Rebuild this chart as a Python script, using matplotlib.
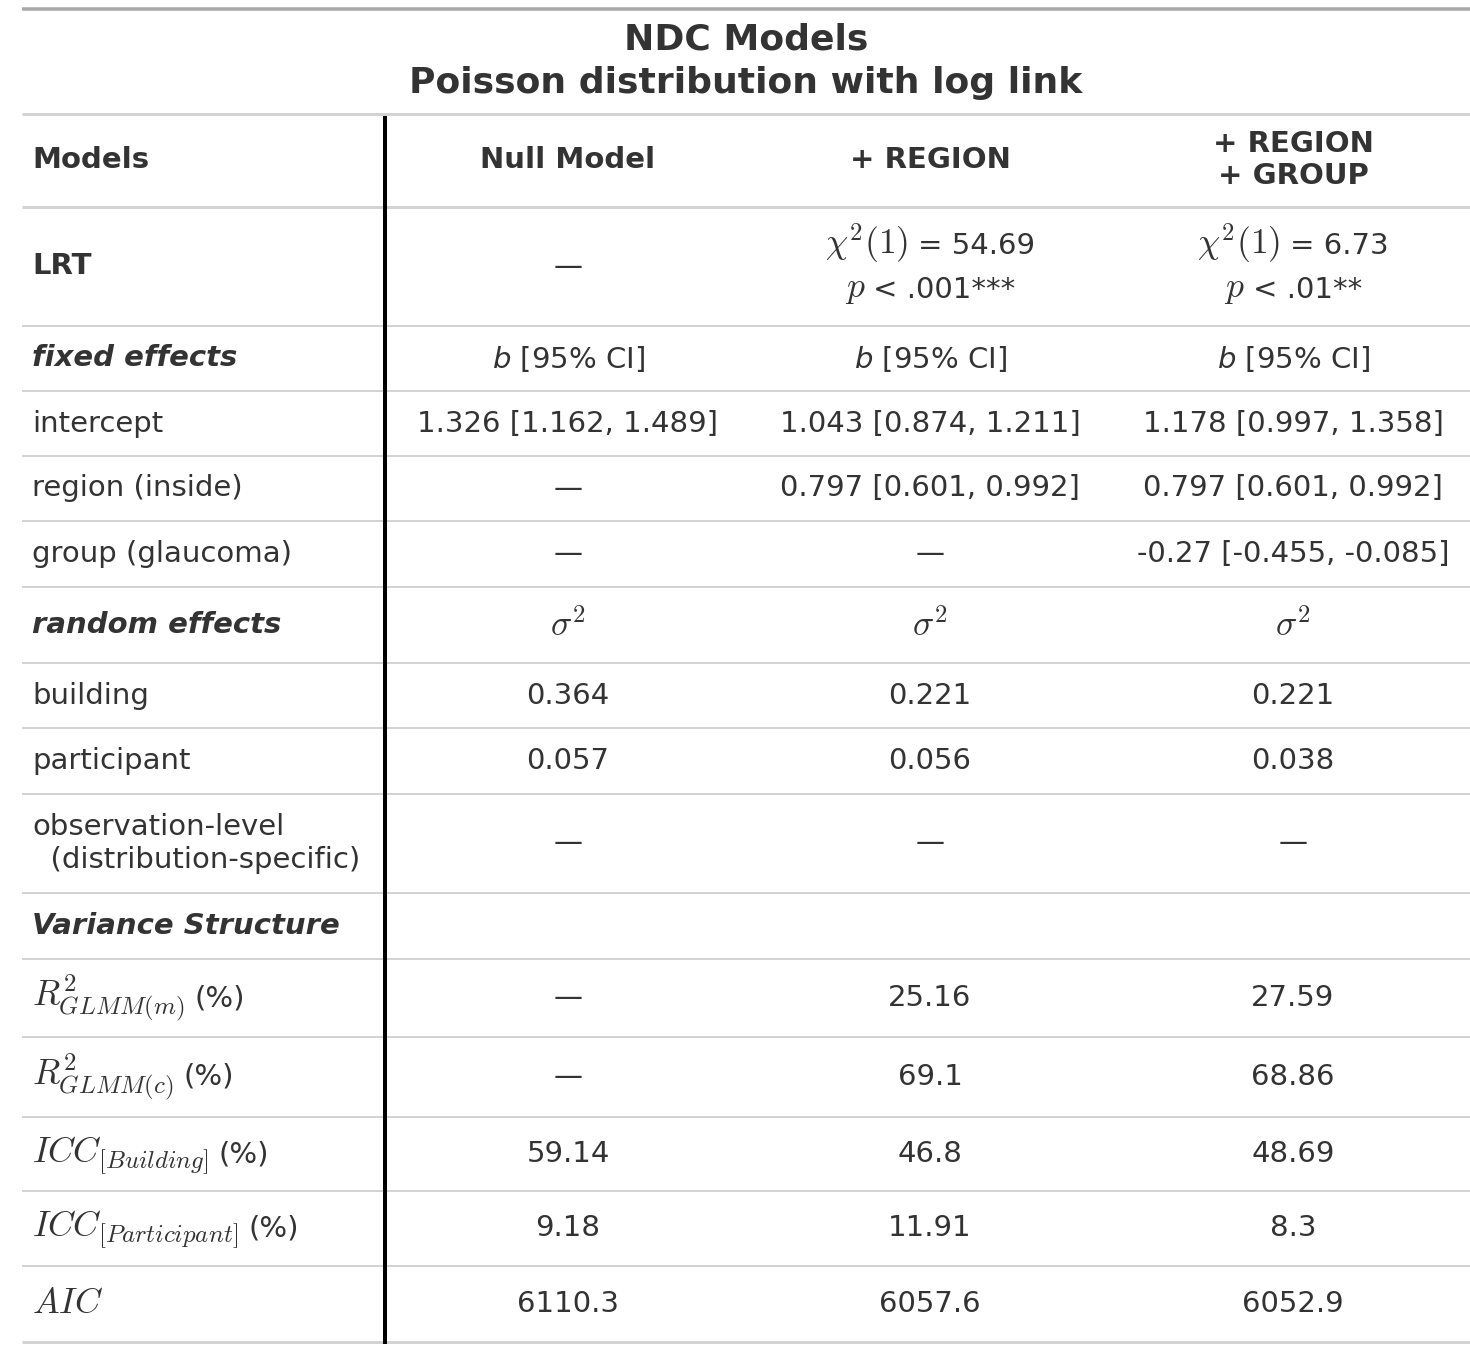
import matplotlib
matplotlib.use("Agg")
import matplotlib.pyplot as plt

# ---- table content ----
title = ["NDC Models", "Poisson distribution with log link"]
stub_header = "Models"
models = ["Null Model", "+ REGION", "+ REGION\n+ GROUP"]

chi_sq = [None, 54.69, 6.73]
p_value = [None, "< .001***", "< .01**"]

intercept = ["1.326 [1.162, 1.489]", "1.043 [0.874, 1.211]", "1.178 [0.997, 1.358]"]
region = [None, "0.797 [0.601, 0.992]", "0.797 [0.601, 0.992]"]
group = [None, None, "-0.27 [-0.455, -0.085]"]
building = [0.364, 0.221, 0.221]
participant = [0.057, 0.056, 0.038]
observation = [None, None, None]
r2_marginal = [None, 25.16, 27.59]
r2_conditional = [None, 69.1, 68.86]
icc_building = [59.14, 46.8, 48.69]
icc_participant = [9.18, 11.91, 8.3]
aic = [6110.3, 6057.6, 6052.9]

# (label, label style, cells, cell style)
rows = [
    ("LRT", "bold", "lrt", "plain"),
    ("fixed effects", "bolditalic", ["$b$ [95% CI]"] * 3, "sansmath"),
    ("intercept", "plain", intercept, "plain"),
    ("region (inside)", "plain", region, "plain"),
    ("group (glaucoma)", "plain", group, "plain"),
    ("random effects", "bolditalic", [r"$\sigma^2$"] * 3, "math"),
    ("building", "plain", building, "plain"),
    ("participant", "plain", participant, "plain"),
    ("observation-level\n  (distribution-specific)", "plain", observation, "plain"),
    ("Variance Structure", "bolditalic", ["", "", ""], "plain"),
    (r"$R^2_{GLMM(m)}$", "mathpct", r2_marginal, "plain"),
    (r"$R^2_{GLMM(c)}$", "mathpct", r2_conditional, "plain"),
    (r"$ICC_{[Building]}$", "mathpct", icc_building, "plain"),
    (r"$ICC_{[Participant]}$", "mathpct", icc_participant, "plain"),
    (r"$AIC$", "math", aic, "plain"),
]

# ---- layout (pixels) ----
W, H = 1470, 1350
left, right = 22, 1470
stub_x = 32
col_x = [568, 930, 1293]
divider_x = 385
edges = [114, 207, 326, 391, 456, 521, 587, 663, 728, 794, 893, 959,
         1037, 1117, 1191, 1266, 1342]

txt = "#333333"
fs = 21
mfs = 25.6
px = 72 / 100

fig = plt.figure(figsize=(W / 100, H / 100), dpi=100)
ax = fig.add_axes([0, 0, 1, 1])
ax.set_xlim(0, W)
ax.set_ylim(H, 0)
ax.axis("off")
renderer = fig.canvas.get_renderer()


def cell(s):
    return "\u2014" if s is None else str(s)


def put(x, y, s, style, ha="center"):
    kw = dict(ha=ha, va="center", color=txt, fontsize=fs, family="DejaVu Sans")
    if style == "bold":
        kw["fontweight"] = "bold"
    elif style == "bolditalic":
        kw["fontweight"] = "bold"
        kw["fontstyle"] = "italic"
    elif style == "sansmath":
        kw["math_fontfamily"] = "dejavusans"
    return ax.text(x, y, s, **kw)


def put_seq(x, base, pieces, ha="center"):
    # pieces: (text, is_math, gap before in px); drawn on a common baseline
    arts, widths = [], []
    for s, is_math, gap in pieces:
        kw = dict(ha="left", va="baseline", color=txt, family="DejaVu Sans")
        if is_math:
            kw.update(fontsize=mfs, math_fontfamily="cm")
        else:
            kw.update(fontsize=fs)
        t = ax.text(0, base, s, **kw)
        arts.append(t)
        widths.append(t.get_window_extent(renderer).width)
    total = sum(widths) + sum(p[2] for p in pieces)
    cur = x - total / 2 if ha == "center" else x
    for t, w, p in zip(arts, widths, pieces):
        cur += p[2]
        t.set_x(cur)
        cur += w


# title
for y, line in zip([40, 83], title):
    ax.text(746, y, line, ha="center", va="center", fontsize=26,
            fontweight="bold", color=txt)

# header
put(stub_x, 160, stub_header, "bold", ha="left")
for x, m in zip(col_x, models):
    put(x, 160, m, "bold")

# body
for i, (label, lstyle, cells, cstyle) in enumerate(rows):
    y0, y1 = edges[i + 1], edges[i + 2]
    yc = (y0 + y1) / 2
    if lstyle == "mathpct":
        put_seq(stub_x, yc + 8, [(label, True, 0), ("(%)", False, 10)], ha="left")
    elif lstyle == "math":
        put_seq(stub_x, yc + 9, [(label, True, 0)], ha="left")
    else:
        put(stub_x, yc, label, lstyle, ha="left")

    if cells == "lrt":
        for x, c, p in zip(col_x, chi_sq, p_value):
            if c is None:
                put(x, yc, cell(None), "plain")
            else:
                put_seq(x, yc - 13, [(r"$\chi^2(1)$", True, 0),
                                     ("= " + str(c), False, 10)])
                put_seq(x, yc + 31, [("$p$", True, 0), (p, False, 8)])
        continue
    for x, c in zip(col_x, cells):
        if cstyle == "math":
            put_seq(x, yc + 11, [(c, True, 0)])
        else:
            put(x, yc, cell(c), cstyle)

# rules
ax.hlines(8.5, left, right, color="#A8A8A8", lw=3.5 * px)
ax.hlines([edges[0], edges[1], edges[-1]], left, right, color="#D3D3D3", lw=3 * px)
ax.hlines(edges[2:-1], left, right, color="#D3D3D3", lw=2 * px)
ax.vlines(divider_x, 116, 1344, color="black", lw=4 * px)

fig.savefig("out.png", dpi=100, facecolor="white")
